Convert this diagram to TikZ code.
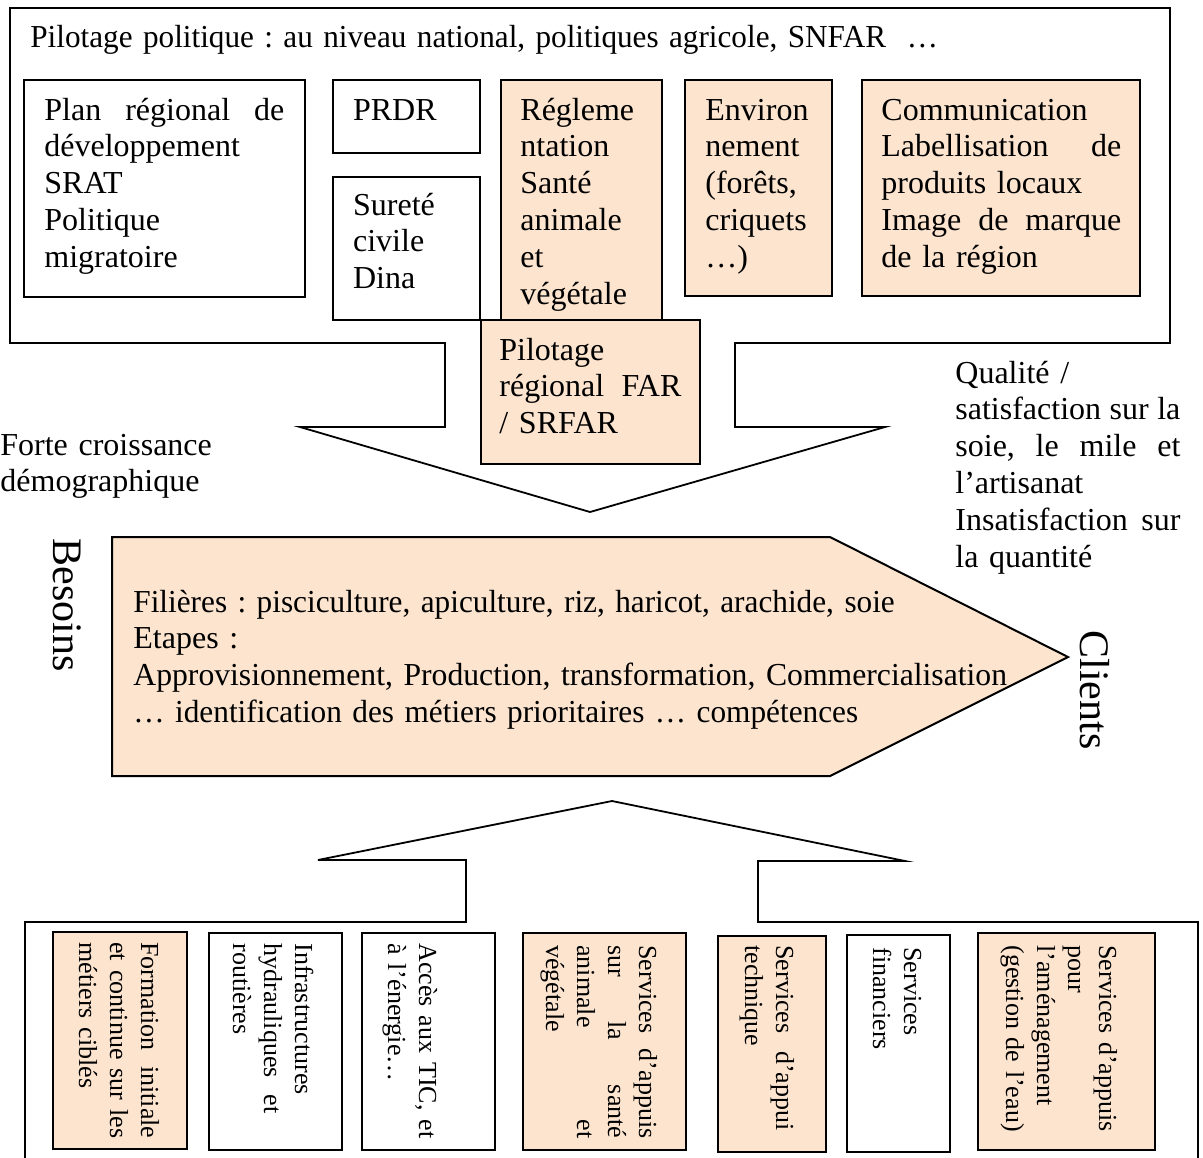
\documentclass[tikz,border=0pt]{standalone}
\usepackage{fontspec}
\setmainfont{Liberation Serif}
\usetikzlibrary{fit}
\definecolor{peach}{RGB}{252,228,207}
\tikzset{
  box/.style={draw, line width=1pt, inner sep=0pt},
  pbox/.style={box, fill=peach},
  outline/.style={draw, line width=0.9pt, line join=miter},
  txt/.style={anchor=base west, inner sep=0pt, align=left, font=\fontsize{16}{18.4}\selectfont\frenchspacing},
  vtxt/.style={anchor=base west, inner sep=0pt, align=left, rotate=-90, font=\fontsize{13}{15.5}\selectfont\frenchspacing},
  bigtxt/.style={anchor=base west, inner sep=0pt, rotate=-90, font=\fontsize{21}{24}\selectfont},
}
\newcommand\js[2]{\leavevmode\hbox to #1{#2}}
\begin{document}
\begin{tikzpicture}[x=0.5pt,y=-0.5pt]
\useasboundingbox (0,0) rectangle (1203,1157);

% top frame with downward arrow
\draw[outline] (445,343) -- (10,343) -- (10,8) -- (1170,8) -- (1170,343) -- (735,343)
  -- (735,427) -- (885,427) -- (590,512) -- (300,427) -- (445,427) -- cycle;

% top boxes
\node[box, fit={(24,80)(305,297)}] (plan) {};
\node[box, fit={(333,80)(480,153)}] (prdr) {};
\node[box, fit={(333,177)(480,320)}] (surete) {};
\node[pbox, fit={(501,80)(662,320)}] (regl) {};
\node[pbox, fit={(685,80)(832,296)}] (env) {};
\node[pbox, fit={(862,80)(1140,296)}] (comm) {};
\node[pbox, fit={(481,320)(700,464)}] (pilreg) {};

% central pentagon
\draw[line width=1pt, fill=peach] (112,537) -- (830,537) -- (1068,657) -- (830,776) -- (112,776) -- cycle;

% bottom frame with upward arrow
\draw[outline] (25,1160) -- (25,922) -- (466,922) -- (466,860) -- (318,860) -- (612,801)
  -- (905,861) -- (758,861) -- (758,922) -- (1198,922) -- (1198,1160);

% bottom boxes
\node[pbox, fit={(53,932)(187,1149)}] (form) {};
\node[box, fit={(209,933)(342,1150)}] (infra) {};
\node[box, fit={(362,933)(495,1150)}] (acces) {};
\node[pbox, fit={(523,933)(686,1150)}] (sante) {};
\node[pbox, fit={(718,936)(826,1152)}] (tech) {};
\node[box, fit={(847,935)(950,1152)}] (fin) {};
\node[pbox, fit={(978,933)(1155,1150)}] (amen) {};

% texts top
\node[txt, text width=470pt] (t0) at (30,47) {\scalebox{0.975}[1]{Pilotage politique : au niveau national, politiques agricole, SNFAR\ \ …}};
\node[txt, text width=120pt] (tplan) at (44,120) {\js{120pt}{Plan\hfill régional\hfill de}\\développement\\SRAT\\Politique\\migratoire};
\node[txt, text width=60pt] (tprdr) at (352.7,120) {PRDR};
\node[txt, text width=60pt] (tsur) at (352.7,215) {Sureté\\civile\\Dina};
\node[txt, text width=62pt] (treg) at (520,120) {Régleme\\ntation\\Santé\\animale\\et\\végétale};
\node[txt, text width=62pt] (tenv) at (705,120) {Environ\\nement\\(forêts,\\criquets\\…)};
\node[txt, text width=120pt] (tcom) at (881,120) {Communication\\\js{120pt}{Labellisation\hfill de}\\produits locaux\\\js{120pt}{Image\hfill de\hfill marque}\\de la région};
\node[txt, text width=91pt] (tpil) at (499,360) {Pilotage\\\js{91pt}{régional\hfill FAR}\\/ SRFAR};

% side texts
\node[txt, text width=110pt] (tforte) at (0,455) {Forte croissance\\démographique};
\node[txt, text width=112.5pt] (tqual) at (955,383) {Qualité /\\\js{112.5pt}{satisfaction\hfill sur\hfill la}\\\js{112.5pt}{soie,\hfill le\hfill mile\hfill et}\\l’artisanat\\\js{112.5pt}{Insatisfaction\hfill sur}\\la quantité};

% central text
\node[txt, text width=450pt] (tfil) at (133,612) {\scalebox{0.977}[1]{Filières : pisciculture, apiculture, riz, haricot, arachide, soie}\\Etapes :\\\scalebox{0.99}[1]{Approvisionnement, Production, transformation, Commercialisation}\\\scalebox{0.978}[1]{… identification des métiers prioritaires … compétences}};

\node[bigtxt] (besoins) at (53,538) {Besoins};
\node[bigtxt] (clients) at (1080,630) {Clients};

% bottom rotated texts
\node[vtxt, text width=98pt] (tform) at (141,942) {\js{98pt}{Formation\hfill initiale}\\\js{98pt}{et\hfill continue\hfill sur\hfill les}\\métiers ciblés};
\node[vtxt, text width=85pt] (tinfra) at (295,943) {Infrastructures\\\js{85pt}{hydrauliques\hfill et}\\routières};
\node[vtxt, text width=97.5pt] (tacc) at (419,943) {\js{97.5pt}{Accès\hfill aux\hfill TIC,\hfill et}\\à l'énergie…};
\node[vtxt, text width=96.5pt] (tsan) at (639,945) {\js{96.5pt}{Services\hfill d’appuis}\\\js{96.5pt}{sur\hfill la\hfill santé}\\\js{96.5pt}{animale\hfill et}\\végétale};
\node[vtxt, text width=92.5pt] (ttech) at (776,945) {\js{92.5pt}{Services\hfill d’appui}\\technique};
\node[vtxt, text width=90pt] (tfin) at (904,947) {Services\\financiers};
\node[vtxt, text width=96pt] (tamen) at (1099,945) {Services d’appuis\\pour\\l’aménagement\\(gestion de l’eau)};
\end{tikzpicture}
\end{document}
